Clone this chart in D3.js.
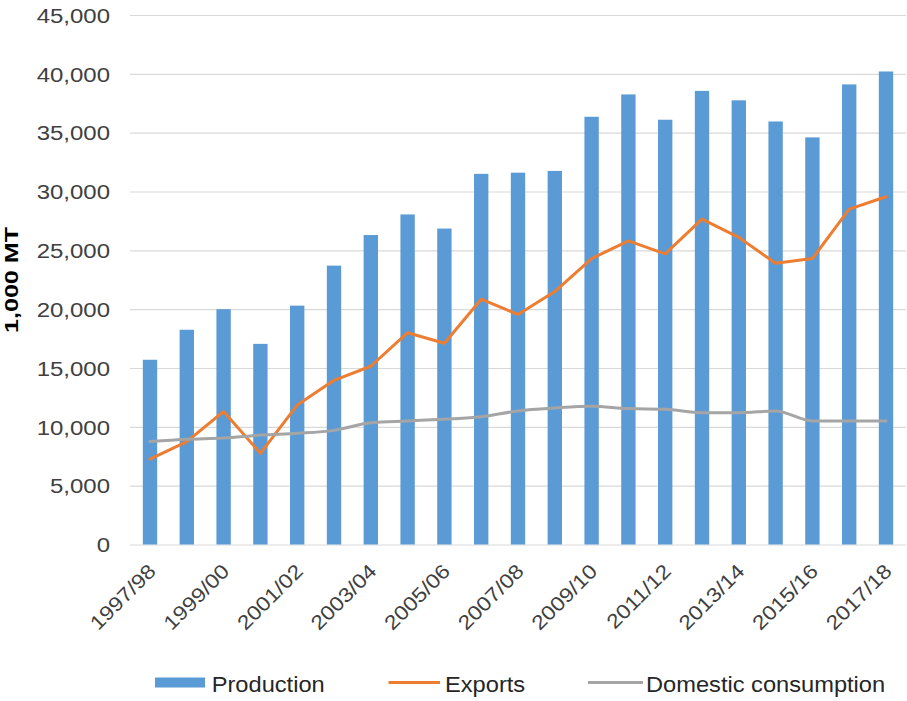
<!DOCTYPE html>
<html>
<head>
<meta charset="utf-8">
<script src="https://cdn.jsdelivr.net/npm/d3@7"></script>
<style>
  html, body { margin: 0; padding: 0; background: #ffffff; }
  svg { display: block; font-family: "Liberation Sans", Arial, sans-serif; }
</style>
</head>
<body>
<svg id="chart" width="907" height="701"></svg>
<script>
// Marketing years
const categories = [
  "1997/98", "1998/99", "1999/00", "2000/01", "2001/02", "2002/03", "2003/04",
  "2004/05", "2005/06", "2006/07", "2007/08", "2008/09", "2009/10", "2010/11",
  "2011/12", "2012/13", "2013/14", "2014/15", "2015/16", "2016/17", "2017/18"
];

// Values in 1,000 MT
const production = [
  15700, 18250, 20000, 17050, 20300, 23700, 26300, 28050, 26850, 31500, 31600,
  31750, 36350, 38250, 36100, 38550, 37750, 35950, 34600, 39100, 40200
];
const exportsSeries = [
  7250, 8750, 11300, 7750, 11850, 13950, 15150, 18000, 17100, 20850, 19550,
  21500, 24300, 25800, 24700, 27650, 26100, 23900, 24300, 28500, 29550
];
const domestic = [
  8750, 8950, 9050, 9300, 9450, 9700, 10350, 10500, 10650, 10850, 11350,
  11600, 11750, 11550, 11500, 11200, 11200, 11350, 10500, 10500, 10500
];

const yTicks = [0, 5000, 10000, 15000, 20000, 25000, 30000, 35000, 40000, 45000];
const xTickLabels = categories.filter((d, i) => i % 2 === 0);

const legendItems = [
  { name: "Production", kind: "bar", color: "#5B9BD5" },
  { name: "Exports", kind: "line", color: "#ED7D31" },
  { name: "Domestic consumption", kind: "line", color: "#A5A5A5" }
];

const svg = d3.select("#chart");

const plot = { left: 131.6, right: 904.4, top: 15, bottom: 544.5 };

const x = d3.scaleBand()
  .domain(categories)
  .range([plot.left, plot.right])
  .paddingInner(0.61)
  .paddingOuter(0.305);

const y = d3.scaleLinear()
  .domain([0, 45000])
  .range([plot.bottom, plot.top]);

const cx = d => x(d) + x.bandwidth() / 2;

// Horizontal gridlines and value labels
const gridLeft = 130, gridRight = 906;
const yAxis = svg.append("g")
  .attr("transform", `translate(${gridLeft},0)`)
  .call(d3.axisLeft(y)
    .tickValues(yTicks)
    .tickSize(-(gridRight - gridLeft))
    .tickFormat(d3.format(",")));
yAxis.select(".domain").remove();
yAxis.selectAll(".tick line")
  .attr("stroke", "#d9d9d9")
  .attr("stroke-width", 1.2);
yAxis.selectAll(".tick text")
  .attr("x", null)
  .attr("dy", null)
  .attr("text-anchor", "end")
  .attr("transform", `translate(${110 - gridLeft},7.3) scale(1.17,1)`)
  .attr("fill", "#404040")
  .style("font-size", "20.5px")
  .style("font-family", "'Liberation Sans', Arial, sans-serif");

// Production bars
svg.append("g")
  .selectAll("rect")
  .data(categories)
  .join("rect")
  .attr("x", d => x(d))
  .attr("width", x.bandwidth())
  .attr("y", (d, i) => y(production[i]))
  .attr("height", (d, i) => y(0) - y(production[i]))
  .attr("fill", "#5B9BD5");

// Exports line
svg.append("path")
  .datum(exportsSeries)
  .attr("fill", "none")
  .attr("stroke", "#ED7D31")
  .attr("stroke-width", 3)
  .attr("stroke-linejoin", "round")
  .attr("stroke-linecap", "round")
  .attr("d", d3.line()
    .x((d, i) => cx(categories[i]))
    .y(d => y(d)));

// Domestic consumption line
svg.append("path")
  .datum(domestic)
  .attr("fill", "none")
  .attr("stroke", "#A5A5A5")
  .attr("stroke-width", 3)
  .attr("stroke-linejoin", "round")
  .attr("stroke-linecap", "round")
  .attr("d", d3.line()
    .curve(d3.curveMonotoneX)
    .x((d, i) => cx(categories[i]))
    .y(d => y(d)));

// Category axis with slanted labels
const xAxis = svg.append("g")
  .attr("transform", `translate(0,${plot.bottom})`)
  .call(d3.axisBottom(x).tickValues(xTickLabels).tickSize(0));
xAxis.select(".domain").remove();
xAxis.selectAll(".tick text")
  .attr("y", null)
  .attr("dy", null)
  .attr("text-anchor", "end")
  .attr("transform", "translate(7,28) rotate(-45) scale(1.15,1)")
  .attr("fill", "#404040")
  .style("font-size", "20px")
  .style("font-family", "'Liberation Sans', Arial, sans-serif");

// Value axis title
svg.append("text")
  .attr("transform", "translate(18.3,280) rotate(-90)")
  .attr("x", -53)
  .attr("textLength", 106)
  .attr("lengthAdjust", "spacingAndGlyphs")
  .attr("fill", "#000000")
  .style("font-size", "18.5px")
  .style("font-weight", "bold")
  .text("1,000 MT");

// Legend
const legendPos = [
  { sx: 155, ex: 205, tx: 211.7 },
  { sx: 388.5, ex: 440, tx: 445 },
  { sx: 588, ex: 643, tx: 646 }
];
const legendY = 682.5;
const legend = svg.append("g");
legendItems.forEach((item, i) => {
  const p = legendPos[i];
  if (item.kind === "bar") {
    legend.append("rect")
      .attr("x", p.sx).attr("y", legendY - 5)
      .attr("width", p.ex - p.sx).attr("height", 10)
      .attr("fill", item.color);
  } else {
    legend.append("line")
      .attr("x1", p.sx).attr("x2", p.ex)
      .attr("y1", legendY).attr("y2", legendY)
      .attr("stroke", item.color)
      .attr("stroke-width", 3);
  }
  legend.append("text")
    .attr("transform", `translate(${p.tx},${legendY + 9.2}) scale(1.1,1)`)
    .attr("fill", "#262626")
    .style("font-size", "21.5px")
    .text(item.name);
});
</script>
</body>
</html>
